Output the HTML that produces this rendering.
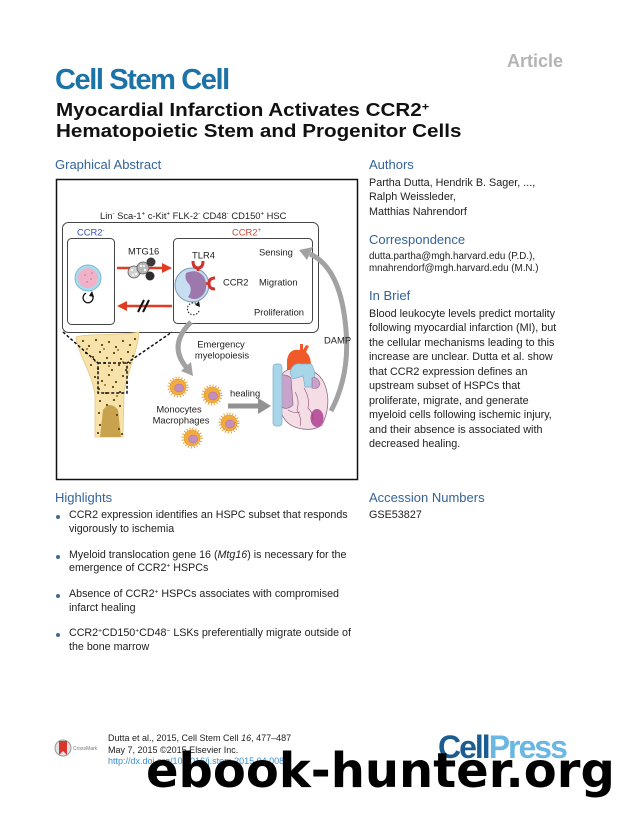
<!DOCTYPE html>
<html><head><meta charset="utf-8"><style>
html,body{margin:0;padding:0;background:#fff;}
body{width:628px;height:816px;position:relative;overflow:hidden;font-family:"Liberation Sans",Arial,sans-serif;color:#1e1e1e;}
.a{position:absolute;white-space:nowrap;}
.h{font-size:13px;line-height:16px;color:#33639a;}
.b{font-size:10.8px;line-height:14.5px;}
.hl{font-size:10.7px;line-height:13.3px;left:69px;}
sup{font-size:0.62em;line-height:0;vertical-align:0.5em;}
.dot{position:absolute;width:4px;height:4px;border-radius:50%;background:#456a94;left:56px;}
</style></head><body>

<div class="a" style="left:507px;top:51px;font-size:18px;line-height:20px;font-weight:bold;color:#b4b4b4;">Article</div>
<div class="a" style="left:55px;top:65px;font-size:29px;line-height:30px;font-weight:bold;color:#1c73a6;letter-spacing:-1.4px;">Cell Stem Cell</div>
<div class="a" style="left:56px;top:100.3px;font-size:18px;line-height:21px;font-weight:bold;color:#111;transform:scaleX(1.145);transform-origin:0 0;">Myocardial Infarction Activates CCR2<sup>+</sup><br>Hematopoietic Stem and Progenitor Cells</div>

<div class="a h" style="left:55px;top:157px;">Graphical Abstract</div>
<div class="a h" style="left:369px;top:157px;">Authors</div>
<div class="a b" style="left:369px;top:175.75px;">Partha Dutta, Hendrik B. Sager, ...,<br>Ralph Weissleder,<br>Matthias Nahrendorf</div>
<div class="a h" style="left:369px;top:232px;">Correspondence</div>
<div class="a" style="left:369px;top:251.25px;font-size:9.8px;line-height:11.5px;">dutta.partha@mgh.harvard.edu (P.D.),<br>mnahrendorf@mgh.harvard.edu (M.N.)</div>
<div class="a h" style="left:369px;top:288px;">In Brief</div>
<div class="a b" style="left:369px;top:306.75px;">Blood leukocyte levels predict mortality<br>following myocardial infarction (MI), but<br>the cellular mechanisms leading to this<br>increase are unclear. Dutta et al. show<br>that CCR2 expression defines an<br>upstream subset of HSPCs that<br>proliferate, migrate, and generate<br>myeloid cells following ischemic injury,<br>and their absence is associated with<br>decreased healing.</div>
<div class="a h" style="left:369px;top:490px;">Accession Numbers</div>
<div class="a b" style="left:369px;top:507.75px;">GSE53827</div>

<div class="a h" style="left:55px;top:490px;">Highlights</div>
<div class="dot" style="top:515px;"></div>
<div class="a hl" style="top:509.35px;">CCR2 expression identifies an HSPC subset that responds<br>vigorously to ischemia</div>
<div class="dot" style="top:554.5px;"></div>
<div class="a hl" style="top:549px;">Myeloid translocation gene 16 (<i>Mtg16</i>) is necessary for the<br>emergence of CCR2<sup>+</sup> HSPCs</div>
<div class="dot" style="top:594px;"></div>
<div class="a hl" style="top:588.35px;">Absence of CCR2<sup>+</sup> HSPCs associates with compromised<br>infarct healing</div>
<div class="dot" style="top:633px;"></div>
<div class="a hl" style="top:627.35px;">CCR2<sup>+</sup>CD150<sup>+</sup>CD48<sup>−</sup> LSKs preferentially migrate outside of<br>the bone marrow</div>

<div class="a" style="left:108px;top:733.25px;font-size:9px;line-height:11.5px;color:#222;">Dutta et al., 2015, Cell Stem Cell <i>16</i>, 477–487<br>May 7, 2015 ©2015 Elsevier Inc.<br><span style="color:#3b8fd0;">http://dx.doi.org/10.1016/j.stem.2015.04.008</span></div>
<div class="a" style="left:73px;top:746px;font-size:5px;line-height:6px;color:#777;">CrossMark</div>
<div class="a" style="left:438px;top:731px;font-size:32px;line-height:32px;font-weight:bold;letter-spacing:-2px;"><span style="color:#1c5d91;">Cell</span><span style="color:#6ab7e3;">Press</span></div>

<svg width="628" height="816" style="position:absolute;left:0;top:0;" font-family="Liberation Sans, Arial, sans-serif">
  <circle cx="63" cy="748" r="8" fill="#e2e2e2" stroke="#9a9a9a" stroke-width="1"/>
  <path d="M59 741 L67 741 L67 755 L63 751 L59 755 Z" fill="#d9362b"/>

  <rect x="56.5" y="179.5" width="301" height="300" fill="none" stroke="#111" stroke-width="1.5"/>
  <text x="100" y="219" font-size="9.4" fill="#222">Lin<tspan font-size="6" dy="-3.5">-</tspan><tspan dy="3.5"> Sca-1</tspan><tspan font-size="6" dy="-3.5">+</tspan><tspan dy="3.5"> c-Kit</tspan><tspan font-size="6" dy="-3.5">+</tspan><tspan dy="3.5"> FLK-2</tspan><tspan font-size="6" dy="-3.5">-</tspan><tspan dy="3.5"> CD48</tspan><tspan font-size="6" dy="-3.5">-</tspan><tspan dy="3.5"> CD150</tspan><tspan font-size="6" dy="-3.5">+</tspan><tspan dy="3.5"> HSC</tspan></text>

  <rect x="62.5" y="222.5" width="256" height="110" rx="6" fill="none" stroke="#444" stroke-width="1"/>
  <rect x="67.5" y="238.5" width="47" height="86" rx="4" fill="none" stroke="#444" stroke-width="1"/>
  <rect x="173.5" y="238.5" width="139" height="85" rx="4" fill="none" stroke="#444" stroke-width="1"/>

  <text x="77" y="235.5" font-size="9.4" fill="#3552b0">CCR2<tspan font-size="6" dy="-3.5">-</tspan></text>
  <text x="232" y="235.5" font-size="9.4" fill="#d5452f">CCR2<tspan font-size="6" dy="-3.5">+</tspan></text>
  <text x="128" y="254.5" font-size="9.4" fill="#222">MTG16</text>
  <text x="192" y="258.5" font-size="9.4" fill="#222">TLR4</text>
  <text x="223" y="285.5" font-size="9.4" fill="#222">CCR2</text>
  <text x="259" y="255.5" font-size="9.4" fill="#222">Sensing</text>
  <text x="259" y="285.5" font-size="9.4" fill="#222">Migration</text>
  <text x="254" y="315.5" font-size="9.4" fill="#222">Proliferation</text>

  <line x1="117" y1="268" x2="164" y2="268" stroke="#e23b22" stroke-width="2.5"/>
  <polygon points="172,268 162,263 162,273" fill="#e23b22"/>
  <line x1="125" y1="306" x2="172" y2="306" stroke="#e23b22" stroke-width="2.5"/>
  <polygon points="117,306 127,301 127,311" fill="#e23b22"/>
  <line x1="138" y1="312" x2="144" y2="300" stroke="#111" stroke-width="2"/>
  <line x1="143" y1="312" x2="149" y2="300" stroke="#111" stroke-width="2"/>

  <circle cx="134" cy="272" r="6" fill="#cfcfcf" stroke="#555" stroke-width="0.8"/>
  <circle cx="143" cy="268" r="6" fill="#b8b8b8" stroke="#555" stroke-width="0.8"/>
  <circle cx="151" cy="262" r="4.5" fill="#3a3a3a"/>
  <circle cx="150" cy="276" r="4.5" fill="#2e2e2e"/>
  <circle cx="132" cy="270" r="1.2" fill="#fff"/><circle cx="136" cy="274" r="1.2" fill="#fff"/><circle cx="133" cy="275" r="1" fill="#fff"/>
  <circle cx="141" cy="266" r="1.2" fill="#fff"/><circle cx="145" cy="270" r="1.2" fill="#fff"/><circle cx="144" cy="266" r="1" fill="#fff"/>

  <circle cx="88" cy="278" r="13" fill="#a9dbef" stroke="#7fb8d6" stroke-width="1"/>
  <circle cx="88" cy="278" r="10" fill="#efb2c7"/>
  <circle cx="85" cy="275" r="1" fill="#d98aa8"/><circle cx="91" cy="279" r="1" fill="#d98aa8"/><circle cx="87" cy="282" r="1" fill="#d98aa8"/><circle cx="92" cy="273" r="1" fill="#d98aa8"/>
  <path d="M92.5 295.5 A5 5 0 1 1 86 293.2" fill="none" stroke="#111" stroke-width="1.3"/>
  <polygon points="92,291 94,297 89,296" fill="#111"/>

  <circle cx="192" cy="285" r="17" fill="#c6def0" stroke="#7a9ab8" stroke-width="1"/>
  <path d="M186 273 Q198 268 204 277 Q209 287 203 295 Q196 302 188 297 Q193 290 189 284 Q184 279 186 273 Z" fill="#9d78ac"/>
  <path d="M193 261 Q193 268 198 268 Q203 268 203 261" fill="none" stroke="#d2322a" stroke-width="3"/>
  <line x1="198" y1="268" x2="198" y2="271" stroke="#d2322a" stroke-width="2.5"/>
  <path d="M215 278 Q209 278 209 283.5 Q209 289 215 289" fill="none" stroke="#d2322a" stroke-width="3"/>
  <line x1="209" y1="283.5" x2="206" y2="283.5" stroke="#d2322a" stroke-width="2.5"/>
  <path d="M199 311 A6 6 0 1 1 197 304" fill="none" stroke="#111" stroke-width="1" stroke-dasharray="1.5 1.5"/>
  <polygon points="199,301 200,307 195,305" fill="#111"/>

  <path d="M191 322 Q168 345 186 367" fill="none" stroke="#a2a2a2" stroke-width="5"/>
  <polygon points="193,376 181,371 191,362" fill="#a2a2a2"/>
  <path d="M331 411 Q350 375 346 330 Q341 268 310 254" fill="none" stroke="#a2a2a2" stroke-width="5"/>
  <polygon points="299,250 313,247 307,260" fill="#a2a2a2"/>
  <rect x="228" y="403.5" width="31" height="5" fill="#929292"/>
  <polygon points="258,398 271,406 258,414" fill="#929292"/>

  <text x="221" y="347.5" font-size="9.4" fill="#222" text-anchor="middle">Emergency</text>
  <text x="222" y="358.5" font-size="9.4" fill="#222" text-anchor="middle">myelopoiesis</text>
  <text x="324" y="343.5" font-size="9.4" fill="#222">DAMP</text>
  <text x="230" y="396.5" font-size="9.4" fill="#222">healing</text>
  <text x="179" y="412.5" font-size="9.4" fill="#222" text-anchor="middle">Monocytes</text>
  <text x="181" y="423.5" font-size="9.4" fill="#222" text-anchor="middle">Macrophages</text>

  <path d="M76 337 C90 333 120 336 139 332 C138 350 128 370 124 392 L123 437 L95 437 L95 395 C92 372 78 355 76 337 Z" fill="#f7e3a9" stroke="#e4c98a" stroke-width="0.8"/>
  <path d="M100 437 L103 410 Q110 400 118 410 L121 437 Z" fill="#c9a24e"/>
  <g fill="#6b5020">
    <rect x="82" y="340" width="2" height="2"/><rect x="88" y="345" width="2" height="2"/><rect x="95" y="339" width="2" height="2"/><rect x="101" y="344" width="2" height="2"/><rect x="108" y="341" width="2" height="2"/><rect x="115" y="346" width="2" height="2"/><rect x="122" y="340" width="2" height="2"/><rect x="129" y="344" width="2" height="2"/><rect x="134" y="338" width="2" height="2"/>
    <rect x="85" y="352" width="2" height="2"/><rect x="92" y="356" width="2" height="2"/><rect x="99" y="351" width="2" height="2"/><rect x="106" y="357" width="2" height="2"/><rect x="113" y="352" width="2" height="2"/><rect x="120" y="358" width="2" height="2"/><rect x="127" y="351" width="2" height="2"/><rect x="132" y="355" width="2" height="2"/>
    <rect x="90" y="364" width="2" height="2"/><rect x="97" y="368" width="2" height="2"/><rect x="104" y="362" width="2" height="2"/><rect x="111" y="369" width="2" height="2"/><rect x="118" y="364" width="2" height="2"/><rect x="125" y="369" width="2" height="2"/><rect x="129" y="362" width="2" height="2"/>
    <rect x="94" y="376" width="2" height="2"/><rect x="101" y="380" width="2" height="2"/><rect x="108" y="374" width="2" height="2"/><rect x="115" y="381" width="2" height="2"/><rect x="122" y="375" width="2" height="2"/><rect x="126" y="382" width="2" height="2"/>
    <rect x="98" y="388" width="2" height="2"/><rect x="105" y="392" width="2" height="2"/><rect x="112" y="386" width="2" height="2"/><rect x="119" y="391" width="2" height="2"/>
    <rect x="99" y="400" width="2" height="2"/><rect x="106" y="404" width="2" height="2"/><rect x="113" y="399" width="2" height="2"/><rect x="119" y="405" width="2" height="2"/>
    <rect x="98" y="412" width="2" height="2"/><rect x="116" y="414" width="2" height="2"/><rect x="99" y="424" width="2" height="2"/><rect x="118" y="428" width="2" height="2"/><rect x="97" y="432" width="2" height="2"/><rect x="121" y="433" width="2" height="2"/>
  </g>
  <g fill="#b08a40">
    <rect x="86" y="348" width="2" height="2"/><rect x="103" y="348" width="2" height="2"/><rect x="117" y="349" width="2" height="2"/><rect x="94" y="360" width="2" height="2"/><rect x="108" y="365" width="2" height="2"/><rect x="122" y="361" width="2" height="2"/><rect x="104" y="384" width="2" height="2"/><rect x="116" y="395" width="2" height="2"/>
  </g>
  <path d="M63 332 L98 363 L98 393 L127 393 L127 363 L172 332" fill="none" stroke="#111" stroke-width="1.5" stroke-dasharray="3 2"/>
  <line x1="98" y1="363" x2="127" y2="363" stroke="#111" stroke-width="1.5" stroke-dasharray="3 2"/>

  <g>
    <circle cx="178" cy="387" r="9.5" fill="none" stroke="#e49a30" stroke-width="2" stroke-dasharray="1 2"/>
    <circle cx="178" cy="387" r="8" fill="#f3ab3c" stroke="#dd9428" stroke-width="0.6"/>
    <ellipse cx="179" cy="388" rx="4.5" ry="4" fill="#c48fbf" stroke="#a070a0" stroke-width="0.5"/>
    <circle cx="212" cy="395" r="9.5" fill="none" stroke="#e49a30" stroke-width="2" stroke-dasharray="1 2"/>
    <circle cx="212" cy="395" r="8" fill="#f3ab3c" stroke="#dd9428" stroke-width="0.6"/>
    <ellipse cx="213" cy="396" rx="4.5" ry="4" fill="#c48fbf" stroke="#a070a0" stroke-width="0.5"/>
    <circle cx="229" cy="423" r="9.5" fill="none" stroke="#e49a30" stroke-width="2" stroke-dasharray="1 2"/>
    <circle cx="229" cy="423" r="8" fill="#f3ab3c" stroke="#dd9428" stroke-width="0.6"/>
    <ellipse cx="230" cy="424" rx="4.5" ry="4" fill="#c48fbf" stroke="#a070a0" stroke-width="0.5"/>
    <circle cx="192" cy="438" r="9.5" fill="none" stroke="#e49a30" stroke-width="2" stroke-dasharray="1 2"/>
    <circle cx="192" cy="438" r="8" fill="#f3ab3c" stroke="#dd9428" stroke-width="0.6"/>
    <ellipse cx="193" cy="439" rx="4.5" ry="4" fill="#c48fbf" stroke="#a070a0" stroke-width="0.5"/>
  </g>

  <path d="M287 372 L287 360 Q289 348 300 350 L300 344 L303 344 L303 350 L306 345 L309 346 L306 352 Q311 356 311 366 L311 372 Z" fill="#f05a2a"/>
  <path d="M280 378 Q285 366 300 370 Q318 368 325 385 Q332 405 322 425 Q312 432 298 428 Q285 425 280 410 Q276 395 280 378 Z" fill="#f5dde6" stroke="#8c6c88" stroke-width="0.8"/>
  <path d="M276 378 Q284 372 291 378 L293 405 Q284 413 277 402 Z" fill="#c9a2cc" stroke="#8c6c88" stroke-width="0.7"/>
  <rect x="273" y="364" width="9" height="62" rx="3" fill="#a8d6e8" stroke="#7fb0c8" stroke-width="0.7"/>
  <path d="M290 373 Q292 362 302 364 L311 364 Q317 371 313 387 L305 387 L303 376 L293 379 Z" fill="#a8d6e8" stroke="#7fb0c8" stroke-width="0.7"/>
  <path d="M312 378 Q318 376 320 384 Q318 390 312 388 Z" fill="#c9a2cc" stroke="#8c6c88" stroke-width="0.6"/>
  <ellipse cx="317" cy="418" rx="6.5" ry="9" fill="#b9579f"/>
  <path d="M295 392 Q300 400 297 410 Q302 418 300 426 M304 388 Q310 398 308 408 Q314 414 313 420 M288 410 Q295 414 300 412" fill="none" stroke="#8a4a70" stroke-width="0.6"/>
</svg>

<div class="a" style="left:146px;top:746.4px;font-family:'DejaVu Sans',sans-serif;font-weight:bold;font-size:48px;line-height:50px;color:#000;">ebook-hunter.org</div>
</body></html>
